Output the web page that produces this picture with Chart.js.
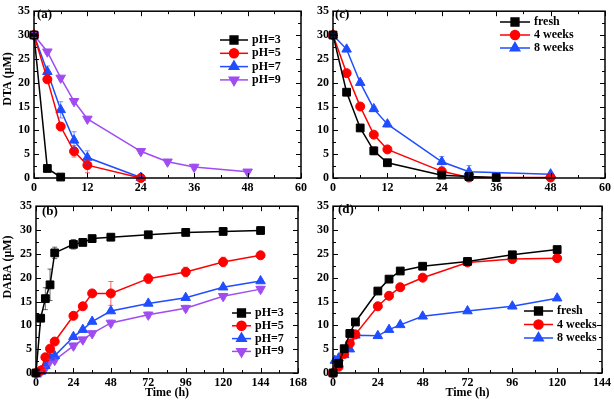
<!DOCTYPE html>
<html>
<head>
<meta charset="utf-8">
<script src="https://cdn.jsdelivr.net/npm/chart.js@4/dist/chart.umd.min.js"></script>
<style>
  html, body { margin: 0; padding: 0; background: #fff; }
  body { width: 614px; height: 402px; position: relative; overflow: hidden; }
  canvas { position: absolute; }
</style>
</head>
<body>
<canvas id="chart-a" width="310" height="196" style="left:0;top:0"></canvas>
<canvas id="chart-c" width="307" height="196" style="left:307px;top:0"></canvas>
<canvas id="chart-b" width="310" height="207" style="left:0;top:195px"></canvas>
<canvas id="chart-d" width="307" height="207" style="left:307px;top:195px"></canvas>
<script>
// ── (a) DTA vs time at different pH ──────────────────────────
const aTime3 = [0, 3, 6];
const aPH3 = [30, 2, 0.2];
const aTime5 = [0, 3, 6, 9, 12, 24];
const aPH5 = [30, 20.7, 10.8, 5.6, 2.7, 0];
const aPH5Err = [0.5, 0.5, 0.8, 1.2, 1.6, 0];
const aTime7 = [0, 3, 6, 9, 12, 24];
const aPH7 = [30, 22.3, 14.3, 7.9, 4.3, 0.1];
const aPH7Err = [0.5, 1.2, 1.7, 1.8, 1.4, 0.2];
const aTime9 = [0, 3, 6, 9, 12, 24, 30, 36, 48];
const aPH9 = [30, 26.5, 21, 16.1, 12.4, 5.6, 3.4, 2.3, 1.3];
const aPH9Err = [0.5, 0.4, 0.4, 0.5, 0.4, 0.5, 0.5, 0.6, 0.4];

// ── (c) DTA vs time, storage age ─────────────────────────────
const cTimeFresh = [0, 3, 6, 9, 12, 24, 30, 36];
const cFresh = [30, 18, 10.5, 5.7, 3.2, 0.6, 0.3, 0.1];
const cFreshErr = [0.4, 0.4, 0.4, 0.8, 0.5, 0.3, 0.3, 0];
const cTime4w = [0, 3, 6, 9, 12, 24, 30, 48];
const c4w = [30, 22, 15, 9.1, 6, 1.4, 0.1, 0.1];
const cTime8w = [0, 3, 6, 9, 12, 24, 30, 48];
const c8w = [30, 27, 20, 14.5, 11.3, 3.4, 1.3, 0.8];
const c8wErr = [0.4, 0.4, 0.4, 0.5, 0.6, 1.1, 1.3, 0.3];

// ── (b) DABA vs time at different pH ─────────────────────────
const bTime = [0, 3, 6, 9, 12, 24, 30, 36, 48, 72, 96, 120, 144];
const bPH3 = [0, 11.5, 15.6, 18.5, 25.2, 27, 27.4, 28.2, 28.5, 29, 29.5, 29.7, 29.9];
const bPH3Err = [0, 0.5, 2.3, 3.3, 1.2, 1, 0.4, 0.4, 0.4, 0.4, 0.4, 0.4, 0.4];
const bPH5 = [0, 0.5, 3.3, 5.1, 6.6, 12, 14, 16.7, 16.7, 19.8, 21.2, 23.3, 24.7];
const bPH5Err = [0, 0.3, 0.4, 0.4, 0.4, 0.4, 0.4, 0.4, 2.5, 1, 1, 1, 0.5];
const bPH7 = [0, 0.3, 1.5, 3.3, 3.6, 7.6, 9.1, 10.8, 13, 14.6, 15.8, 18, 19.3];
const bPH9 = [0, 0.2, 1, 2.5, 2.7, 5.7, 7, 8.3, 10.5, 12.2, 13.6, 16.1, 17.6];
const bPH9Err = [0, 0.2, 0.3, 0.4, 0.5, 0.6, 0.5, 0.5, 0.6, 0.6, 0.6, 0.6, 0.6];

// ── (d) DABA vs time, storage age ────────────────────────────
const dTime = [0, 3, 6, 9, 12, 24, 30, 36, 48, 72, 96, 120];
const dFresh = [0, 2, 5.1, 8.3, 10.7, 17.2, 19.7, 21.4, 22.4, 23.4, 24.8, 25.9];
const d4w = [0, 1.3, 4, 6.2, 8.1, 14, 16.2, 18, 20, 23.2, 23.9, 24.1];
const dTime8w = [0, 1, 3, 6, 9, 12, 24, 30, 36, 48, 72, 96, 120];
const d8w = [0, 2.6, 3.1, 3.8, 5, 7.9, 7.8, 9.1, 10.1, 11.9, 13, 14, 15.7];

const FONT = "'Liberation Serif', 'Times New Roman', serif";
const BLACK = '#000000', RED = '#ff0000', BLUE = '#1f4dff', PURPLE = '#a04cf0';

function series(label, xs, ys, color, style, rot, err) {
  return {
    label,
    data: xs.map((x, i) => ({ x, y: ys[i] })),
    err: err || null,
    borderColor: color,
    backgroundColor: color,
    borderWidth: 1.5,
    pointStyle: style,
    pointRotation: rot || 0,
    pointRadius: style === 'rect' ? 5.5 : style === 'circle' ? 4.5 : 5.5,
    pointBorderWidth: 1,
    tension: 0,
    clip: false,
  };
}

// vertical error bars with small caps
const errorBarPlugin = {
  id: 'errorBars',
  afterDatasetsDraw(chart) {
    const { ctx, scales: { y } } = chart;
    ctx.save();
    ctx.lineWidth = 1;
    chart.data.datasets.forEach((ds, di) => {
      if (!ds.err) return;
      const meta = chart.getDatasetMeta(di);
      ctx.strokeStyle = ds.borderColor;
      ctx.globalAlpha = 0.6;
      meta.data.forEach((pt, i) => {
        const e = ds.err[i];
        if (!e) return;
        const v = ds.data[i].y;
        const top = y.getPixelForValue(v + e);
        const bot = y.getPixelForValue(Math.max(0, v - e));
        ctx.beginPath();
        ctx.moveTo(pt.x, top); ctx.lineTo(pt.x, bot);
        ctx.moveTo(pt.x - 2.5, top); ctx.lineTo(pt.x + 2.5, top);
        ctx.moveTo(pt.x - 2.5, bot); ctx.lineTo(pt.x + 2.5, bot);
        ctx.stroke();
      });
    });
    ctx.restore();
  },
};

// box frame, inward ticks, panel tag, y title and legend
const framePlugin = {
  id: 'frame',
  afterDraw(chart, args, o) {
    const { ctx, chartArea: a, scales: { x, y } } = chart;
    ctx.save();
    ctx.strokeStyle = '#000';
    ctx.lineWidth = 1.5;
    ctx.strokeRect(a.left, a.top, a.right - a.left, a.bottom - a.top);
    ctx.lineWidth = 1;
    ctx.beginPath();
    for (let v = x.min; v <= x.max + 1e-6; v += o.xMinor) {
      const px = Math.round(x.getPixelForValue(v)) + 0.5;
      const len = Math.abs(v % o.xMajor) < 1e-6 ? 5 : 3;
      ctx.moveTo(px, a.bottom); ctx.lineTo(px, a.bottom - len);
      ctx.moveTo(px, a.top); ctx.lineTo(px, a.top + len);
    }
    for (let v = y.min; v <= y.max + 1e-6; v += o.yMinor) {
      const py = Math.round(y.getPixelForValue(v)) + 0.5;
      const len = Math.abs(v % o.yMajor) < 1e-6 ? 5 : 3;
      ctx.moveTo(a.left, py); ctx.lineTo(a.left + len, py);
      ctx.moveTo(a.right, py); ctx.lineTo(a.right - len, py);
    }
    ctx.stroke();

    ctx.fillStyle = '#000';
    ctx.font = 'bold 13px ' + FONT;
    ctx.textBaseline = 'middle';
    ctx.textAlign = 'left';
    ctx.fillText(o.tag, o.tagX, o.tagY);

    if (o.yTitle) {
      ctx.save();
      ctx.font = 'bold 12px ' + FONT;
      ctx.translate(o.yTitleX, o.yTitleY);
      ctx.rotate(-Math.PI / 2);
      ctx.textAlign = 'center';
      ctx.fillText(o.yTitle, 0, 0);
      ctx.restore();
    }

    ctx.font = 'bold 12px ' + FONT;
    chart.data.datasets.forEach((ds, i) => {
      const ly = o.legY + i * o.legDy;
      ctx.strokeStyle = ds.borderColor;
      ctx.lineWidth = 1.5;
      ctx.beginPath();
      ctx.moveTo(o.legX, ly); ctx.lineTo(o.legX + o.legLen, ly);
      ctx.stroke();
      ctx.fillStyle = ds.backgroundColor;
      Chart.helpers.drawPoint(ctx, {
        pointStyle: ds.pointStyle, rotation: ds.pointRotation,
        radius: ds.pointRadius, borderWidth: 1,
      }, o.legX + o.legLen / 2, ly);
      ctx.fillStyle = '#000';
      ctx.fillText(ds.label, o.legX + o.legLen + 4, ly);
    });
    ctx.restore();
  },
};

function makeChart(id, datasets, cfg) {
  const tickFont = { family: FONT, size: 12, weight: 'bold' };
  return new Chart(document.getElementById(id), {
    type: 'line',
    data: { datasets },
    options: {
      responsive: false,
      animation: false,
      layout: { padding: { top: 5, right: cfg.padRight, left: 0, bottom: 0 } },
      plugins: {
        legend: { display: false },
        tooltip: { enabled: false },
        frame: cfg.frame,
      },
      scales: {
        x: {
          type: 'linear', min: 0, max: cfg.xMax,
          grid: { display: false, drawTicks: false },
          border: { display: false },
          ticks: { stepSize: cfg.xStep, color: '#000', font: tickFont, padding: 3, maxRotation: 0 },
          title: cfg.xTitle
            ? { display: true, text: 'Time (h)', color: '#000', font: { family: FONT, size: 12, weight: 'bold' }, padding: { top: 0, bottom: 2 } }
            : { display: false },
          afterFit: s => { s.height = cfg.xHeight; },
        },
        y: {
          min: 0, max: 35,
          grid: { display: false, drawTicks: false },
          border: { display: false },
          ticks: { stepSize: 5, color: '#000', font: tickFont, padding: 4 },
          afterFit: s => { s.width = cfg.yWidth; },
        },
      },
    },
    plugins: [errorBarPlugin, framePlugin],
  });
}

makeChart('chart-a', [
  series('pH=3', aTime3, aPH3, BLACK, 'rect'),
  series('pH=5', aTime5, aPH5, RED, 'circle', 0, aPH5Err),
  series('pH=7', aTime7, aPH7, BLUE, 'triangle', 0, aPH7Err),
  series('pH=9', aTime9, aPH9, PURPLE, 'triangle', 180, aPH9Err),
], {
  xMax: 60, xStep: 12, xHeight: 18, yWidth: 34, padRight: 4,
  frame: { xMajor: 12, xMinor: 6, yMajor: 5, yMinor: 2.5, tag: '(a)', tagX: 37, tagY: 15,
    yTitle: 'DTA (\u03bcM)', yTitleX: 8, yTitleY: 79,
    legX: 220, legY: 40, legDy: 13.3, legLen: 28 },
});

makeChart('chart-c', [
  series('fresh', cTimeFresh, cFresh, BLACK, 'rect', 0, cFreshErr),
  series('4 weeks', cTime4w, c4w, RED, 'circle'),
  series('8 weeks', cTime8w, c8w, BLUE, 'triangle', 0, c8wErr),
], {
  xMax: 60, xStep: 12, xHeight: 18, yWidth: 26, padRight: 9,
  frame: { xMajor: 12, xMinor: 6, yMajor: 5, yMinor: 2.5, tag: '(c)', tagX: 28, tagY: 15,
    legX: 193, legY: 22, legDy: 13, legLen: 30 },
});

makeChart('chart-b', [
  series('pH=3', bTime, bPH3, BLACK, 'rect', 0, bPH3Err),
  series('pH=5', bTime, bPH5, RED, 'circle', 0, bPH5Err),
  series('pH=7', bTime, bPH7, BLUE, 'triangle'),
  series('pH=9', bTime, bPH9, PURPLE, 'triangle', 180, bPH9Err),
], {
  xMax: 168, xStep: 24, xHeight: 29, yWidth: 36, padRight: 4, xTitle: true,
  frame: { xMajor: 24, xMinor: 12, yMajor: 5, yMinor: 2.5, tag: '(b)', tagX: 42, tagY: 17,
    yTitle: 'DABA (\u03bcM)', yTitleX: 8, yTitleY: 72,
    legX: 232, legY: 118, legDy: 12.8, legLen: 19 },
});

makeChart('chart-d', [
  series('fresh', dTime, dFresh, BLACK, 'rect'),
  series('4 weeks', dTime, d4w, RED, 'circle'),
  series('8 weeks', dTime8w, d8w, BLUE, 'triangle'),
], {
  xMax: 144, xStep: 24, xHeight: 29, yWidth: 26, padRight: 9, xTitle: true,
  frame: { xMajor: 24, xMinor: 12, yMajor: 5, yMinor: 2.5, tag: '(d)', tagX: 31, tagY: 15,
    legX: 217, legY: 116, legDy: 13.5, legLen: 29 },
});
</script>
</body>
</html>
